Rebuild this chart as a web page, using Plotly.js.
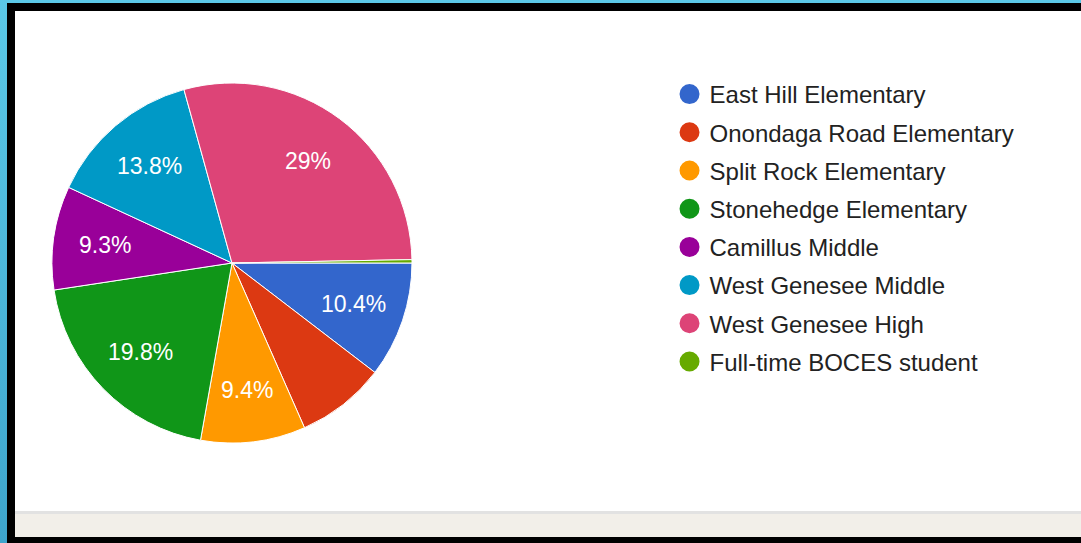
<!DOCTYPE html>
<html>
<head>
<meta charset="utf-8">
<script src="https://cdn.plot.ly/plotly-3.0.1.min.js"></script>
<style>
  html, body { margin: 0; padding: 0; width: 1081px; height: 543px; overflow: hidden; background: #000; }
  #frame { position: absolute; left: 0; top: 0; width: 1081px; height: 543px; background: #000; }
  #cyanTop { position: absolute; left: 0; top: 0; width: 1081px; height: 3px; background: #5bc9e8; }
  #cyanLeft { position: absolute; left: 0; top: 0; width: 7px; height: 543px; background: linear-gradient(#5bc9e8, #3ea5cc); }
  #white { position: absolute; left: 15px; top: 11px; width: 1066px; height: 500px; background: #fff; }
  #grayLine { position: absolute; left: 15px; top: 511px; width: 1066px; height: 3px; background: #e2e2e2; }
  #beige { position: absolute; left: 15px; top: 514px; width: 1066px; height: 23px; background: #f2efe9; }
  #chart { position: absolute; left: 15px; top: 11px; width: 1066px; height: 500px; }
</style>
</head>
<body>
<div id="frame">
  <div id="cyanTop"></div>
  <div id="cyanLeft"></div>
  <div id="white"></div>
  <div id="grayLine"></div>
  <div id="beige"></div>
  <div id="chart"></div>
</div>
<script>
const categories = [
  "East Hill Elementary",
  "Onondaga Road Elementary",
  "Split Rock Elementary",
  "Stonehedge Elementary",
  "Camillus Middle",
  "West Genesee Middle",
  "West Genesee High",
  "Full-time BOCES student"
];
const values = [10.4, 8.0, 9.4, 19.8, 9.3, 13.8, 29.0, 0.3];
const colors = ["#3366cc", "#dc3912", "#ff9900", "#109618", "#990099", "#0099c6", "#dd4477", "#66aa00"];
const labelShown = [true, false, true, true, true, true, true, false];

const total = values.reduce((a, b) => a + b, 0);
const sliceText = values.map((v, i) => labelShown[i] ? (Math.round(v / total * 1000) / 10) + "%" : "");

const FONT = "Liberation Sans, Arial, sans-serif";
const W = 1066, H = 500;
const DOM_X = [0.0347, 0.3724], DOM_Y = [0.136, 0.856];
const START_DEG = 0;        // first slice starts at 3 o'clock
const LABEL_RADIUS = 0.71;  // fraction of the pie radius

const traces = [{
  type: "pie",
  labels: categories,
  values: values,
  textinfo: "none",
  marker: { colors: colors, line: { color: "#ffffff", width: 1 } },
  sort: false,
  direction: "clockwise",
  rotation: 90,
  showlegend: false,
  hoverinfo: "label+percent",
  domain: { x: DOM_X, y: DOM_Y }
}];

categories.forEach((c, i) => {
  traces.push({
    type: "scatter",
    mode: "markers",
    x: [null], y: [null],
    name: c,
    legendgroup: "g" + i,
    marker: { color: colors[i], size: 16, line: { color: colors[i], width: 4 } },
    showlegend: true,
    hoverinfo: "skip"
  });
});

// slice labels at the middle angle of each slice
const cx = (DOM_X[0] + DOM_X[1]) / 2, cy = (DOM_Y[0] + DOM_Y[1]) / 2;
const rPx = Math.min((DOM_X[1] - DOM_X[0]) * W, (DOM_Y[1] - DOM_Y[0]) * H) / 2;
const annotations = [];
let cum = 0;
values.forEach((v, i) => {
  const mid = (cum + v / 2) / total * 2 * Math.PI + START_DEG * Math.PI / 180;
  cum += v;
  if (!sliceText[i]) return;
  annotations.push({
    xref: "paper", yref: "paper",
    x: cx + Math.cos(mid) * rPx * LABEL_RADIUS / W,
    y: cy - Math.sin(mid) * rPx * LABEL_RADIUS / H,
    xanchor: "center", yanchor: "middle",
    text: sliceText[i],
    showarrow: false,
    font: { family: FONT, size: 23, color: "#ffffff" }
  });
});

const layout = {
  width: W,
  height: H,
  margin: { l: 0, r: 0, t: 0, b: 0 },
  paper_bgcolor: "rgba(0,0,0,0)",
  plot_bgcolor: "rgba(0,0,0,0)",
  xaxis: { visible: false },
  yaxis: { visible: false },
  showlegend: true,
  legend: {
    x: 0.614, xanchor: "left",
    y: 0.878, yanchor: "top",
    font: { family: FONT, size: 24, color: "#222222" },
    traceorder: "grouped",
    tracegroupgap: 4,
    bgcolor: "rgba(0,0,0,0)"
  },
  annotations: annotations,
  font: { family: FONT }
};

Plotly.newPlot("chart", traces, layout, { displayModeBar: false, staticPlot: true });
</script>
</body>
</html>
